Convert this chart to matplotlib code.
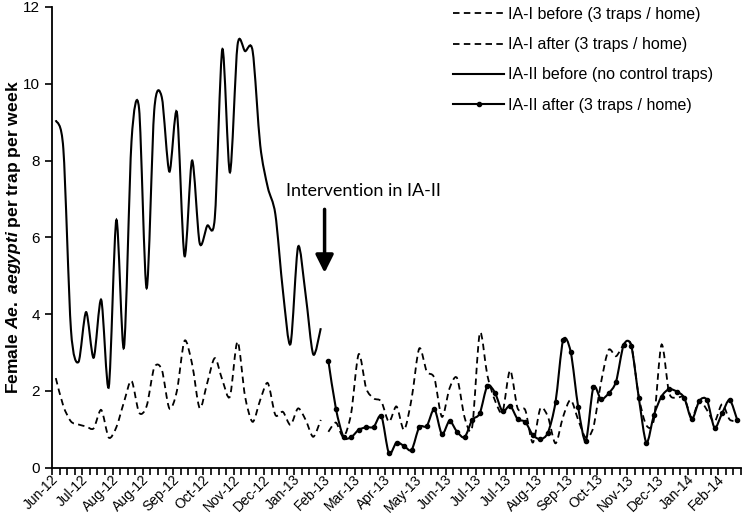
import numpy as np
import matplotlib.pyplot as plt
from matplotlib.path import Path
from matplotlib.patches import PathPatch
from matplotlib.lines import Line2D

plt.rcParams['font.family'] = ['Liberation Sans', 'DejaVu Sans']
plt.rcParams['mathtext.fontset'] = 'custom'
plt.rcParams['mathtext.rm'] = 'Liberation Sans:bold'
plt.rcParams['mathtext.it'] = 'Liberation Sans:bold:italic'
plt.rcParams['mathtext.bf'] = 'Liberation Sans:bold'

# one label every 4 weeks
week_labels = ['Jun-12', 'Jul-12', 'Aug-12', 'Aug-12', 'Sep-12', 'Oct-12', 'Nov-12',
               'Dec-12', 'Jan-13', 'Feb-13', 'Mar-13', 'Apr-13', 'May-13', 'Jun-13',
               'Jul-13', 'Jul-13', 'Aug-13', 'Sep-13', 'Oct-13', 'Nov-13', 'Dec-13',
               'Jan-14', 'Feb-14']
n_weeks = 91
after_start = 36

ia1_before = [2.33, 1.6, 1.2, 1.12, 1.07, 1.02, 1.5, 0.78, 1.05, 1.7,
              2.26, 1.43, 1.6, 2.6, 2.55, 1.54, 2.0, 3.3, 2.7, 1.55,
              2.2, 2.85, 2.28, 1.85, 3.28, 1.85, 1.19, 1.76, 2.2, 1.37,
              1.45, 1.11, 1.54, 1.24, 0.8, 1.24]
ia1_after = [0.93, 1.17, 0.8, 1.4, 2.95, 2.06, 1.8, 1.72, 1.19, 1.59,
             0.98, 1.8, 3.1, 2.5, 2.33, 1.32, 2.06, 2.33, 1.3, 1.06,
             3.5, 2.4, 1.75, 1.45, 2.53, 1.54, 1.5, 0.65, 1.54, 1.32,
             0.63, 1.32, 1.76, 1.24, 0.78, 1.05, 2.2, 3.06, 2.9, 3.2,
             3.2, 1.85, 1.1, 1.25, 3.2, 1.95, 1.82, 1.82, 1.3, 1.75,
             1.5, 1.19, 1.65, 1.25, 1.22]
ia2_before = [9.05, 8.3, 3.6, 2.75, 4.05, 2.86, 4.37, 2.1, 6.45, 3.12,
              8.5, 9.35, 4.67, 9.3, 9.65, 7.71, 9.25, 5.51, 8.0, 5.85,
              6.3, 6.5, 10.9, 7.69, 11.0, 10.85, 10.85, 8.4, 7.3, 6.6,
              4.6, 3.22, 5.75, 4.5, 2.95, 3.63]
ia2_after = [2.78, 1.53, 0.8, 0.79, 0.98, 1.05, 1.06, 1.34, 0.37, 0.65,
             0.56, 0.46, 1.05, 1.08, 1.52, 0.87, 1.21, 0.93, 0.79, 1.24,
             1.41, 2.13, 1.95, 1.46, 1.61, 1.26, 1.19, 0.85, 0.74, 0.91,
             1.7, 3.31, 3.02, 1.57, 0.69, 2.09, 1.78, 1.93, 2.24, 3.19,
             3.17, 1.82, 0.65, 1.37, 1.85, 2.04, 1.98, 1.82, 1.26, 1.74,
             1.76, 1.04, 1.41, 1.76, 1.24]


def smooth_path(xs, ys, k_t=1 / 7):
    # Excel-like smoothed line: bezier segments through the data points
    pts = np.column_stack([xs, ys]).astype(float)
    verts = [pts[0]]
    codes = [Path.MOVETO]
    n = len(pts)
    for k in range(n - 1):
        p0 = pts[max(k - 1, 0)]
        p1 = pts[k]
        p2 = pts[k + 1]
        p3 = pts[min(k + 2, n - 1)]
        verts += [p1 + (p2 - p0) * k_t, p2 - (p3 - p1) * k_t, p2]
        codes += [Path.CURVE4] * 3
    return Path(verts, codes)


x_before = np.arange(len(ia2_before))
x_after = np.arange(after_start, after_start + len(ia2_after))

fig = plt.figure(figsize=(7.43, 5.16), dpi=100)
ax = fig.add_axes([52 / 743, 1 - 467.5 / 516, 689 / 743, 460.5 / 516])

dash = (0, (3.6, 2.4))
ax.add_patch(PathPatch(smooth_path(x_before, ia1_before), fill=False,
                       lw=1.3, ls=dash, ec='black'))
ax.add_patch(PathPatch(smooth_path(x_after, ia1_after), fill=False,
                       lw=1.3, ls=dash, ec='black'))
ax.add_patch(PathPatch(smooth_path(x_before, ia2_before), fill=False,
                       lw=1.5, ec='black'))
ax.add_patch(PathPatch(smooth_path(x_after, ia2_after), fill=False,
                       lw=1.5, ec='black'))
ax.plot(x_after, ia2_after, 'o', color='black', ms=3)

ax.set_xlim(-0.5, n_weeks - 0.5)
ax.set_ylim(0, 12)
ax.set_yticks(range(0, 13, 2))
ax.set_xticks(np.arange(0, 4 * len(week_labels), 4))
ax.set_xticklabels(week_labels, rotation=45, ha='right', va='center',
                   rotation_mode='anchor', fontsize=10)
ax.set_xticks(np.arange(-0.5, n_weeks, 1), minor=True)
ax.tick_params(axis='x', which='major', length=0, pad=7)
ax.tick_params(axis='x', which='minor', length=5, width=1.2, direction='out')
ax.tick_params(axis='y', length=5, width=1.2, direction='out', labelsize=11)
for s in ['top', 'right']:
    ax.spines[s].set_visible(False)
for s in ['left', 'bottom']:
    ax.spines[s].set_linewidth(1.3)

ax.set_ylabel(r'Female $\mathit{Ae.\ aegypti}$ per trap per week',
              fontsize=12.6, fontweight='bold')
ax.yaxis.set_label_coords(-29 / 689, 0.5)

ax.annotate('', xy=(35.5, 5.0), xytext=(35.5, 6.8),
            arrowprops=dict(arrowstyle='-|>,head_width=0.3,head_length=0.6',
                            lw=2.5, color='black', mutation_scale=18))
ax.text(30.4, 7.2, 'Intervention in IA-II', fontsize=13, family='Lato',
        ha='left', va='center')

handles = [Line2D([], [], color='black', lw=1.3, ls=dash),
           Line2D([], [], color='black', lw=1.3, ls=dash),
           Line2D([], [], color='black', lw=1.5),
           Line2D([], [], color='black', lw=1.5, marker='o', ms=3)]
labels = ['IA-I before (3 traps / home)', 'IA-I after (3 traps / home)',
          'IA-II before (no control traps)', 'IA-II after (3 traps / home)']
fig.legend(handles, labels, loc='upper left', bbox_to_anchor=(453 / 743, 1 - 7 / 516),
           frameon=False, fontsize=11.5, handlelength=3.2, handletextpad=0.25,
           labelspacing=0.95, borderpad=0, borderaxespad=0)

fig.savefig('out.png', dpi=100)
